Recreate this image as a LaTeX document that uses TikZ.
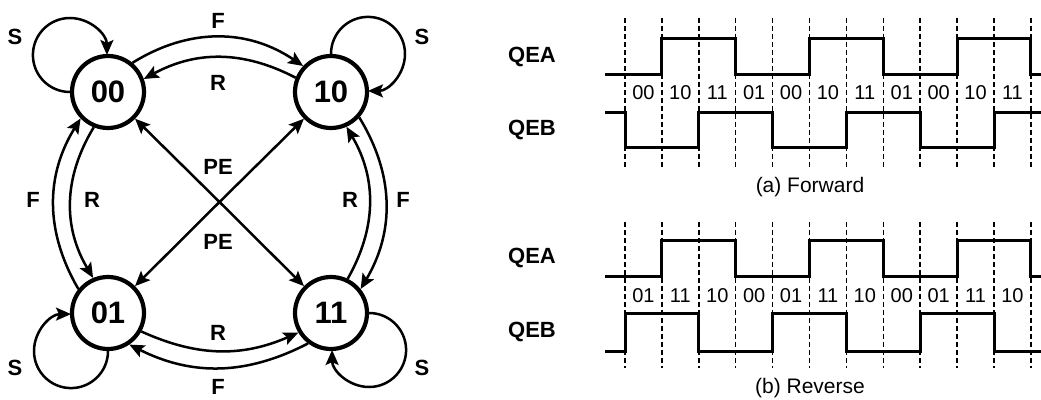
\documentclass[tikz,border=0pt]{standalone}
\usepackage{fontspec}
\setmainfont{Liberation Sans}
\usetikzlibrary{arrows.meta}
\begin{document}
\begin{tikzpicture}[x=1pt,y=1pt,
  state/.style={circle,draw,line width=4.2pt,minimum size=72pt,inner sep=0pt,font=\fontsize{31}{33}\selectfont\bfseries},
  lbl/.style={font=\fontsize{22}{24}\selectfont\bfseries,inner sep=0pt},
  conn/.style={line width=2.5pt,-{Stealth[length=15pt,width=13pt,inset=3pt]}},
  wave/.style={line width=3pt},
  gridline/.style={line width=1.5pt,dash pattern=on 5pt off 3pt},
  bit/.style={font=\fontsize{20}{22}\selectfont,inner sep=0pt},
  sig/.style={font=\fontsize{22}{24}\selectfont\bfseries,inner sep=0pt},
  capt/.style={font=\fontsize{21}{24}\selectfont,inner sep=0pt}
]
\useasboundingbox (0,0) rectangle (1041,399);

% ---------- state diagram ----------
\node[state] (n00) at (108,307) {00};
\node[state] (n10) at (331,307) {10};
\node[state] (n01) at (108,86) {01};
\node[state] (n11) at (331,86) {11};
\coordinate (c) at (219.5,197);

% top
\draw[conn] (n00.50) to[bend left=33] (n10.137);
\draw[conn] (n10.158) to[bend right=28] (n00.20);
% bottom
\draw[conn] (n01.-29) to[bend right=24] (n11.211);
\draw[conn] (n11.233) to[bend left=27] (n01.304);
% left
\draw[conn] (n01.141) to[bend left=31] (n00.224);
\draw[conn] (n00.248) to[bend right=31] (n01.113);
% right
\draw[conn] (n11.64) to[bend right=30] (n10.-66);
\draw[conn] (n10.-42) to[bend left=31] (n11.39);
% PE
\draw[conn] (c) -- (n00);
\draw[conn] (c) -- (n10);
\draw[conn] (c) -- (n01);
\draw[conn] (c) -- (n11);
% self loops
\draw[conn] (n00.west) arc[start angle=270,end angle=0,radius=37];
\draw[conn] (n10.north) arc[start angle=180,end angle=-90,radius=37];
\draw[conn] (n01.south) arc[start angle=0,end angle=-270,radius=37];
\draw[conn] (n11.east) arc[start angle=90,end angle=-180,radius=37];

% labels
\node[lbl] (lFt) at (218,378) {F};
\node[lbl] (lRt) at (218,316) {R};
\node[lbl] (lStl) at (15,362) {S};
\node[lbl] (lStr) at (422,362) {S};
\node[lbl] (lPEt) at (218,232) {PE};
\node[lbl] (lFl) at (33,199) {F};
\node[lbl] (lRl) at (92,199) {R};
\node[lbl] (lRr) at (350,199) {R};
\node[lbl] (lFr) at (403,199) {F};
\node[lbl] (lPEb) at (218,157) {PE};
\node[lbl] (lRb) at (218,66) {R};
\node[lbl] (lFb) at (218,12) {F};
\node[lbl] (lSbl) at (15,31) {S};
\node[lbl] (lSbr) at (422,31) {S};

% ---------- timing diagrams ----------
\def\X#1{625+36.9*#1}
% dashed grid
\foreach \i in {0,...,11} {
  \draw[gridline] ({\X{\i}},381) -- ({\X{\i}},232);
  \draw[gridline] ({\X{\i}},177) -- ({\X{\i}},31);
}
% (a) forward
\node[sig] (qeaA) at (532,342) {QEA};
\node[sig] (qebA) at (532,269) {QEB};
\draw[wave] (605,324) -- ({\X{1}},324) -- ({\X{1}},360) -- ({\X{3}},360) -- ({\X{3}},324)
  -- ({\X{5}},324) -- ({\X{5}},360) -- ({\X{7}},360) -- ({\X{7}},324)
  -- ({\X{9}},324) -- ({\X{9}},360) -- ({\X{11}},360) -- ({\X{11}},324) -- (1041,324);
\draw[wave] (605,286) -- ({\X{0}},286) -- ({\X{0}},251) -- ({\X{2}},251) -- ({\X{2}},286)
  -- ({\X{4}},286) -- ({\X{4}},251) -- ({\X{6}},251) -- ({\X{6}},286)
  -- ({\X{8}},286) -- ({\X{8}},251) -- ({\X{10}},251) -- ({\X{10}},286) -- (1041,286);
\foreach \t [count=\i from 0] in {00,10,11,01,00,10,11,01,00,10,11}
  \node[bit] (ba\i) at ({\X{\i}+18.45},306) {\t};
\node[capt] (captA) at (810,212) {(a) Forward};

% (b) reverse
\node[sig] (qeaB) at (532,141) {QEA};
\node[sig] (qebB) at (532,67) {QEB};
\draw[wave] (605,122) -- ({\X{1}},122) -- ({\X{1}},158) -- ({\X{3}},158) -- ({\X{3}},122)
  -- ({\X{5}},122) -- ({\X{5}},158) -- ({\X{7}},158) -- ({\X{7}},122)
  -- ({\X{9}},122) -- ({\X{9}},158) -- ({\X{11}},158) -- ({\X{11}},122) -- (1041,122);
\draw[wave] (605,48) -- ({\X{0}},48) -- ({\X{0}},85) -- ({\X{2}},85) -- ({\X{2}},48)
  -- ({\X{4}},48) -- ({\X{4}},85) -- ({\X{6}},85) -- ({\X{6}},48)
  -- ({\X{8}},48) -- ({\X{8}},85) -- ({\X{10}},85) -- ({\X{10}},48) -- (1041,48);
\foreach \t [count=\i from 0] in {01,11,10,00,01,11,10,00,01,11,10}
  \node[bit] (bb\i) at ({\X{\i}+18.45},103) {\t};
\node[capt] (captB) at (810,11) {(b) Reverse};
\end{tikzpicture}
\end{document}
